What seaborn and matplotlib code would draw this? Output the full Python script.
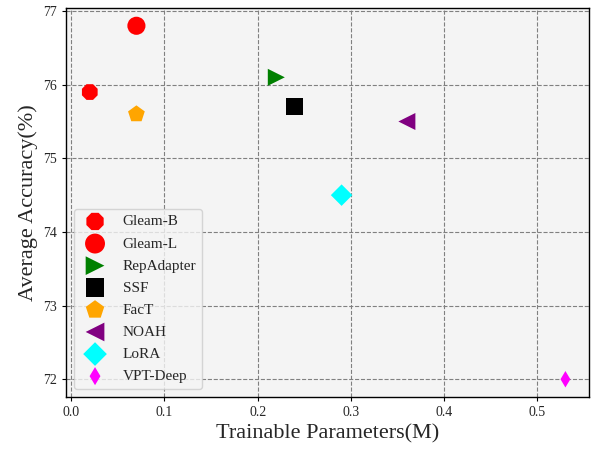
import matplotlib
matplotlib.use("Agg")
from matplotlib import pyplot as plt
import pandas as pd
import seaborn as sns

methods = ["Gleam-B", "Gleam-L", "RepAdapter", "SSF", "FacT", "NOAH", "LoRA", "VPT-Deep"]
params = [0.02, 0.07, 0.22, 0.24, 0.07, 0.36, 0.29, 0.53]
accuracy = [75.9, 76.8, 76.1, 75.7, 75.6, 75.5, 74.5, 72.0]
colors = ["red", "red", "green", "black", "orange", "purple", "cyan", "magenta"]
markers = ["8", "o", ">", "s", "p", "<", "D", "d"]
sizes = [150, 170, 150, 150, 160, 150, 120, 70]

df = pd.DataFrame({"Method": methods, "Params": params, "Accuracy": accuracy})

sns.set_style("whitegrid")
plt.rcParams["font.family"] = ["Liberation Serif", "DejaVu Serif"]

fig = plt.figure(figsize=(6, 4.5), dpi=100)
ax = fig.add_axes([0.11, 0.118, 0.872, 0.864])
ax.set_facecolor("#f4f4f4")

for i, row in df.iterrows():
    sns.scatterplot(x=[row["Params"]], y=[row["Accuracy"]], ax=ax,
                    color=colors[i], marker=markers[i], s=sizes[i],
                    edgecolor="none", label=row["Method"])

ax.grid(True, linestyle="--", color="#808080", linewidth=0.8)
for sp in ax.spines.values():
    sp.set_color("black")
    sp.set_linewidth(1.0)
ax.tick_params(axis="both", which="both", length=3, color="black", labelsize=10, left=True, bottom=True)
ax.set_yticks([72, 73, 74, 75, 76, 77])
ax.set_xticks([0.0, 0.1, 0.2, 0.3, 0.4, 0.5])
ax.set_xlabel("Trainable Parameters(M)", fontsize=16)
ax.set_ylabel("Average Accuracy(%)", fontsize=16)
ax.legend(loc="lower left", fontsize=11, frameon=True, facecolor="#f4f4f4",
          labelspacing=0.55, markerscale=1.1)

fig.savefig("out.png", dpi=100)
